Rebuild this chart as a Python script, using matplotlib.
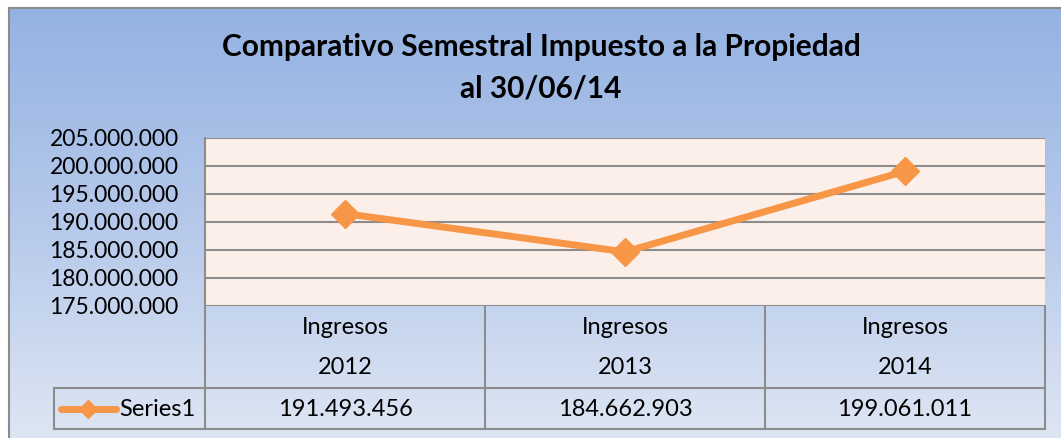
import numpy as np
import matplotlib
matplotlib.use("Agg")
import matplotlib.pyplot as plt
from matplotlib.colors import LinearSegmentedColormap

plt.rcParams['font.family'] = ['Lato', 'DejaVu Sans']

# ---- data ----
title = "Comparativo Semestral Impuesto a la Propiedad\nal 30/06/14"
categories_top = ["Ingresos", "Ingresos", "Ingresos"]
categories_year = ["2012", "2013", "2014"]
series_name = "Series1"
values = [191493456, 184662903, 199061011]
y_ticks = [175000000, 180000000, 185000000, 190000000, 195000000, 200000000, 205000000]

W, H = 1061, 438
ORANGE = "#F79646"
GRID = "#8C8C8C"
FS = 17

def fmt(v):
    return f"{v:,}".replace(",", ".")

fig = plt.figure(figsize=(W / 100, H / 100), dpi=100)
fig.patch.set_facecolor("white")

# background overlay axes in pixel coordinates
bg = fig.add_axes([0, 0, 1, 1])
bg.set_xlim(0, W)
bg.set_ylim(H, 0)
bg.axis("off")
cmap = LinearSegmentedColormap.from_list("bg", ["#94B2E2", "#B6C9EB", "#DDE6F3"])
grad = np.linspace(0, 1, 256).reshape(-1, 1)
bg.imshow(grad, cmap=cmap, aspect="auto", extent=[9, W, H, 8], zorder=0)
bg.plot([9, W], [7.5, 7.5], color="#8C8C8C", lw=1.5, zorder=1)
bg.plot([9, 9], [7.5, H], color="#8C8C8C", lw=1.5, zorder=1)

# title
bg.text(541, 68, title, ha="center", va="center", fontsize=21.5, fontweight="bold",
        color="black", linespacing=1.6)

# main plot axes
L, R, T, B = 205, 1045, 138, 306
ax = fig.add_axes([L / W, 1 - B / H, (R - L) / W, (B - T) / H])
ax.set_facecolor("#FCEEE9")
x = np.arange(len(values))
ax.plot(x, values, color=ORANGE, lw=5, marker="D", markersize=14, zorder=3,
        solid_joinstyle="round", solid_capstyle="round")
ax.set_xlim(-0.5, len(values) - 0.5)
ax.set_ylim(y_ticks[0], y_ticks[-1])
ax.set_yticks(y_ticks)
ax.set_yticklabels([fmt(v) for v in y_ticks], fontsize=16.5)
ax.tick_params(axis="y", length=0, pad=19)
ax.set_xticks([])
for v in y_ticks:
    ax.axhline(v, color=GRID, lw=1.5, zorder=1)
for s in ["top", "right", "bottom"]:
    ax.spines[s].set_visible(False)
ax.spines["left"].set_color(GRID)
ax.spines["left"].set_linewidth(1.5)

# data table
colw = (R - L) / len(values)
row1_bot = 388
row2_bot = 429
tl = dict(color=GRID, lw=1.5, zorder=2)
for i in range(len(values) + 1):
    xx = L + i * colw
    bg.plot([xx, xx], [B, row2_bot], **tl)
bg.plot([54, R], [row1_bot, row1_bot], **tl)
bg.plot([54, R], [row2_bot, row2_bot], **tl)
bg.plot([54, 54], [row1_bot, row2_bot], **tl)

for i in range(len(values)):
    cx = L + (i + 0.5) * colw
    bg.text(cx, 328, categories_top[i], ha="center", va="center", fontsize=FS)
    bg.text(cx, 367, categories_year[i], ha="center", va="center", fontsize=FS)
    bg.text(cx, 409, fmt(values[i]), ha="center", va="center", fontsize=FS)

# legend key in table
bg.plot([61, 116], [409, 409], color=ORANGE, lw=5, solid_capstyle="round", zorder=3)
bg.plot([88], [409], marker="D", color=ORANGE, markersize=9, zorder=4)
bg.text(119, 409, series_name, ha="left", va="center", fontsize=FS)

fig.savefig("out.png", dpi=100, facecolor=fig.get_facecolor())
